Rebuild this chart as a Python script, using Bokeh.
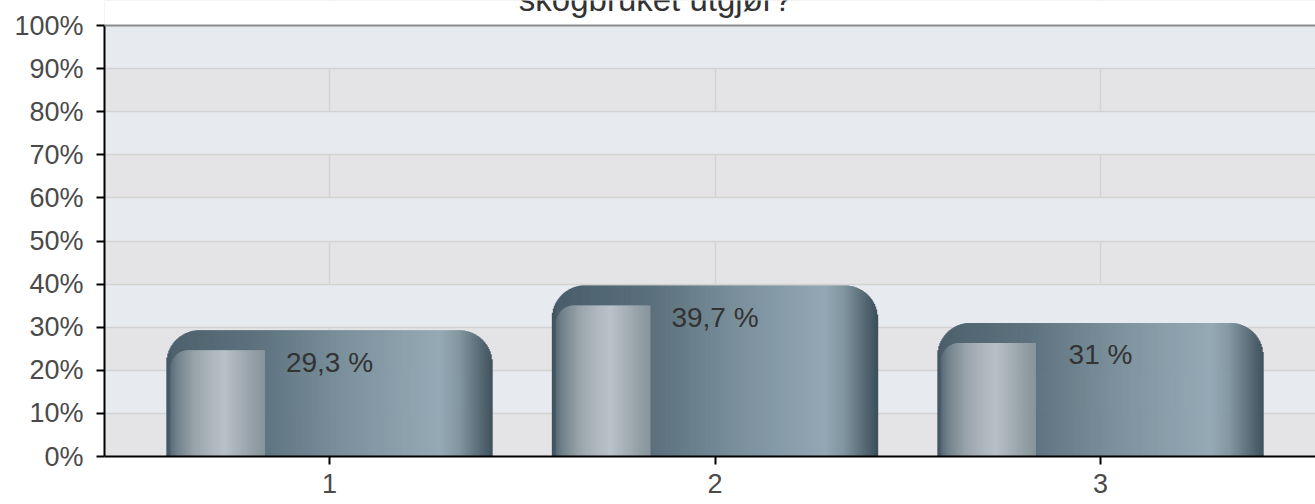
import numpy as np
from bokeh.plotting import figure
from bokeh.models import Range1d, FixedTicker, PrintfTickFormatter, ColumnDataSource, Span
from bokeh.core.properties import value
from bokeh.embed import file_html
from bokeh.resources import INLINE

# ---------------- data ----------------
categories = ["1", "2", "3"]
values = [29.3, 39.7, 31.0]
y_ticks = [0, 10, 20, 30, 40, 50, 60, 70, 80, 90, 100]
title_text = "skogbruket utgjør?"

# ---------------- layout constants ----------------
W, H = 1315, 504
B_LEFT, B_RIGHT, B_TOP, B_BOTTOM = 104, 0, 0, 48
FRAME_W = W - B_LEFT - B_RIGHT
FRAME_H = H - B_TOP - B_BOTTOM
X_START = 1 - 0.5837
X_END = len(categories) + 0.5577
PLOT_TOP_PX = 25            # white strip above the 100% line (title area)
Y_START, Y_MAX = 0, 100
PX_Y = (FRAME_H - PLOT_TOP_PX) / (Y_MAX - Y_START)
Y_END = Y_MAX + PLOT_TOP_PX / PX_Y
PX_X = FRAME_W / (X_END - X_START)
BAR_W = 0.845
CORNER_R = 33.0
PANEL_DROP = 20.0
PANEL_R = 18.0
PANEL_INSET = 4.0
PANEL_FRAC = 0.30
FONT = "Liberation Sans"

base_stops = [(0.0, "#3e5260"), (0.02, "#4a5f6b"), (0.30, "#5a707c"), (0.55, "#788e9a"),
              (0.84, "#93a8b4"), (0.90, "#7f949e"), (0.95, "#5d717c"), (1.0, "#3c4f5a")]
panel_stops = [(0.0, "#5a6c78"), (0.07, "#72828c"), (0.25, "#99a4ab"), (0.45, "#b0b9c0"),
               (0.58, "#bac2c9"), (0.72, "#a9b3ba"), (0.88, "#95a1a8"), (1.0, "#8a969e")]


def hex2rgb(h):
    h = h.lstrip("#")
    return np.array([int(h[i:i + 2], 16) for i in (0, 2, 4)], dtype=float)


def interp(stops, t):
    for (p0, c0), (p1, c1) in zip(stops[:-1], stops[1:]):
        if t <= p1:
            f = 0 if p1 == p0 else (t - p0) / (p1 - p0)
            c = hex2rgb(c0) * (1 - f) + hex2rgb(c1) * f
            return "#%02x%02x%02x" % tuple(int(round(v)) for v in c)
    return stops[-1][1]


xs = [i + 1 for i in range(len(categories))]

# strips building the shaded, rounded bars (derived from the data values)
sx, stop, scol, sw = [], [], [], []
px_x, ptop, pcol, pw = [], [], [], []
bar_px = BAR_W * PX_X
n = int(round(bar_px))
dx = BAR_W / n
for xc, v in zip(xs, values):
    left = xc - BAR_W / 2
    for k in range(n):
        d = k + 0.5
        de = min(d, bar_px - d)
        drop = 0.0
        if de < CORNER_R:
            drop = CORNER_R - np.sqrt(max(CORNER_R ** 2 - (CORNER_R - de) ** 2, 0))
        sx.append(left + (k + 0.5) * dx)
        stop.append(v - drop / PX_Y)
        scol.append(interp(base_stops, d / bar_px))
        sw.append(dx * 1.6)
    # highlight panel
    p_end = PANEL_FRAC * bar_px
    d = PANEL_INSET + 0.5
    while d < p_end:
        dp = d - PANEL_INSET
        drop = PANEL_DROP
        if dp < PANEL_R:
            drop += PANEL_R - np.sqrt(max(PANEL_R ** 2 - (PANEL_R - dp) ** 2, 0))
        px_x.append(left + d / PX_X)
        ptop.append(v - drop / PX_Y)
        pcol.append(interp(panel_stops, dp / (p_end - PANEL_INSET)))
        pw.append(1.6 / PX_X)
        d += 1.0

p = figure(width=W, height=H, output_backend="svg", toolbar_location=None,
           x_range=Range1d(X_START, X_END), y_range=Range1d(Y_START, Y_END),
           min_border_left=B_LEFT, min_border_right=B_RIGHT,
           min_border_top=B_TOP, min_border_bottom=B_BOTTOM,
           background_fill_color="#e4e4e6", border_fill_color="white")
p.outline_line_color = None

p.ygrid.ticker = FixedTicker(ticks=y_ticks)
p.ygrid.grid_line_color = "#d2d2d2"
p.ygrid.grid_line_width = 1.5
p.ygrid.band_fill_color = "#e7eaee"
p.ygrid.band_fill_alpha = 1.0
p.xgrid.ticker = FixedTicker(ticks=xs)
p.xgrid.grid_line_color = "#d4d4d4"
p.xgrid.grid_line_width = 1.5

p.yaxis.ticker = FixedTicker(ticks=y_ticks)
p.yaxis.bounds = (Y_START, Y_MAX)
p.yaxis.formatter = PrintfTickFormatter(format="%d%%")
p.yaxis.major_label_text_font = FONT
p.yaxis.major_label_text_font_size = "27px"
p.yaxis.major_label_text_color = "#4a4a4a"
p.yaxis.major_label_standoff = 13
p.yaxis.minor_tick_line_color = None
p.yaxis.major_tick_in = 0
p.yaxis.major_tick_out = 8
p.yaxis.major_tick_line_width = 2
p.yaxis.axis_line_width = 2
p.yaxis.axis_line_color = "black"

p.xaxis.ticker = FixedTicker(ticks=xs)
p.xaxis.major_label_overrides = {x: c for x, c in zip(xs, categories)}
p.xaxis.major_label_text_font = FONT
p.xaxis.major_label_text_font_size = "27px"
p.xaxis.major_label_text_color = "#4a4a4a"
p.xaxis.major_label_standoff = 9
p.xaxis.major_tick_in = 0
p.xaxis.major_tick_out = 8
p.xaxis.major_tick_line_width = 2
p.xaxis.axis_line_width = 2
p.xaxis.axis_line_color = "black"
p.xaxis.minor_tick_line_color = None

# white title strip above the 100% line
p.quad(left=[X_START], right=[X_END], bottom=[Y_MAX], top=[Y_END],
       fill_color="white", line_color=None)
p.add_layout(Span(location=Y_MAX, dimension="width", line_color="#8c8c8c", line_width=2))

p.vbar(x="x", top="top", width="w", bottom=0, fill_color="c", line_color=None,
       source=ColumnDataSource(dict(x=sx, top=stop, w=sw, c=scol)))
p.vbar(x="x", top="top", width="w", bottom=0, fill_color="c", line_color=None,
       source=ColumnDataSource(dict(x=px_x, top=ptop, w=pw, c=pcol)))

labels = [("%g" % v).replace(".", ",") + " %" for v in values]
p.text(x=xs, y=values, text=labels, text_align="center", text_baseline="alphabetic",
       y_offset=32, text_font=value(FONT), text_font_size="28px", text_color="#333333")

title_x = X_START + (655 - B_LEFT) / PX_X
p.text(x=[title_x], y=[Y_END], text=[title_text], text_align="center",
       text_baseline="alphabetic", y_offset=-1, text_font=value(FONT),
       text_font_size="33px", text_color="#333333")

open("out.html", "w").write(file_html(p, INLINE))
